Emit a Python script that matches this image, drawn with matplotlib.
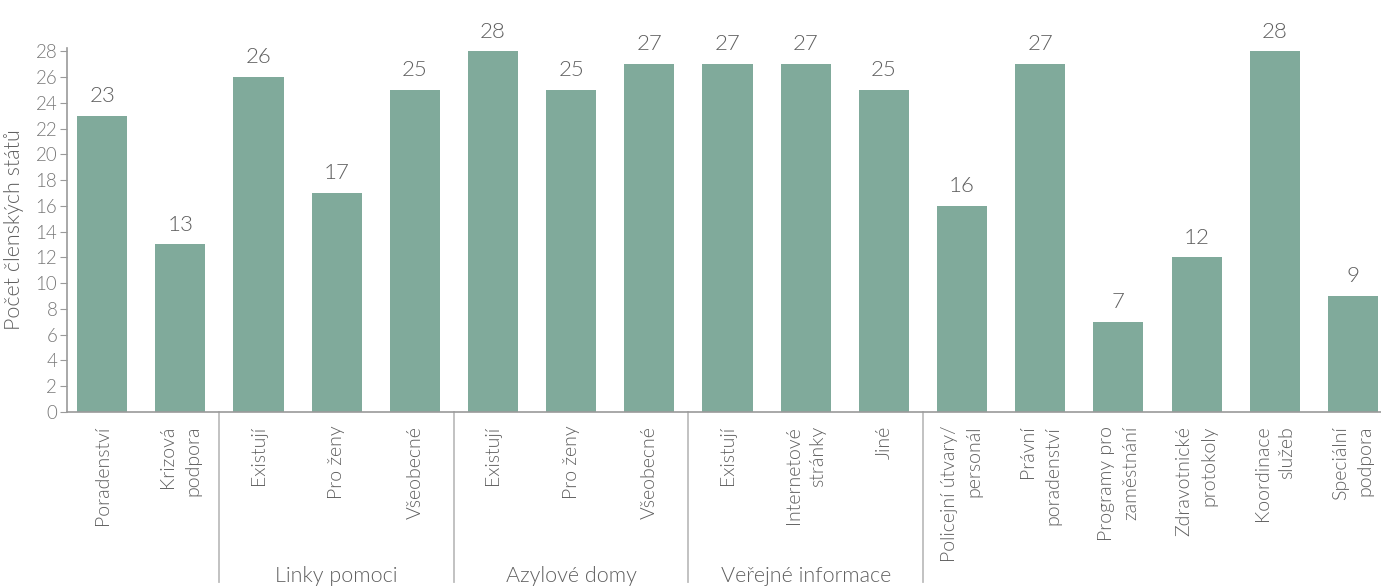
from matplotlib import pyplot as plt
import matplotlib.transforms as mtransforms

# data
categories = ["Poradenství", "Krizová\npodpora",
              "Existují", "Pro ženy", "Všeobecné",
              "Existují", "Pro ženy", "Všeobecné",
              "Existují", "Internetové\nstránky", "Jiné",
              "Policejní útvary/\npersonál", "Právní\nporadenství",
              "Programy pro\nzaměstnání", "Zdravotnické\nprotokoly",
              "Koordinace\nslužeb", "Speciální\npodpora"]
values = [23, 13, 26, 17, 25, 28, 25, 27, 27, 27, 25, 16, 27, 7, 12, 28, 9]
groups = ["Linky pomoci", "Azylové domy", "Veřejné informace"]
group_centers = [3, 6, 9]
separators = [1.5, 4.5, 7.5, 10.5]
yticks = list(range(0, 29, 2))

plt.rcParams['font.family'] = ['Lato', 'Open Sans', 'DejaVu Sans']
plt.rcParams['font.weight'] = 300
plt.rcParams['axes.labelweight'] = 300

bar_color = "#80aa9b"
text_color = "#5f5f5f"
axis_color = "#9a9a9a"

fig = plt.figure(figsize=(13.81, 5.86), dpi=100)
ax = fig.add_axes([0.0485, 0.297, 0.9515, 0.621])

x = list(range(len(values)))
ax.bar(x, values, width=0.64, color=bar_color)

# popisky hodnot
for xi, v in zip(x, values):
    ax.text(xi, v + 0.75, str(v), ha="center", va="bottom",
            fontsize=16, color=text_color)

ax.set_xlim(-0.45, 16.36)
ax.set_ylim(0, 28.25)
ax.set_yticks(yticks)
ax.tick_params(axis="y", length=5, color=axis_color, labelcolor="#777777",
               labelsize=13.5, pad=2)
ax.set_xticks(x)
ax.set_xticklabels(categories, rotation=90, ha="center", va="top",
                   multialignment="right", fontsize=14, color=text_color,
                   linespacing=1.55)
ax.tick_params(axis="x", length=0, pad=10)

for s in ["top", "right"]:
    ax.spines[s].set_visible(False)
for s in ["left", "bottom"]:
    ax.spines[s].set_color(axis_color)
    ax.spines[s].set_linewidth(1.2)

ax.set_ylabel("Počet členských států", fontsize=15.5, color=text_color, labelpad=8)

# oddělovače skupin
trans = mtransforms.blended_transform_factory(ax.transData, ax.transAxes)
for sx in separators:
    ax.plot([sx, sx], [0, -0.467], transform=trans, color="#bdbdbd",
            linewidth=1.3, clip_on=False)

for gx, g in zip(group_centers, groups):
    ax.text(gx, -0.452, g, transform=trans, ha="center", va="center",
            fontsize=15.5, color=text_color)

plt.savefig("out.png", dpi=100)
